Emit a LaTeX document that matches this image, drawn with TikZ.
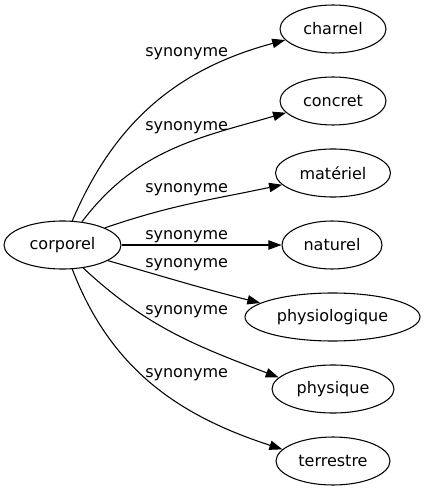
\documentclass[tikz,border=0pt]{standalone}
\usepackage{fontspec}
\setmainfont{DejaVu Sans}
\usetikzlibrary{shapes.geometric,arrows.meta}
\begin{document}
\begin{tikzpicture}[x=0.75pt,y=0.75pt,
  word/.style={ellipse,draw,line width=0.8pt,inner sep=0pt,minimum height=36pt,font=\fontsize{12}{14}\selectfont},
  rel/.style={font=\fontsize{12}{14}\selectfont,anchor=base west,inner sep=0pt},
  link/.style={line width=0.8pt,-{Triangle[length=9.75pt,width=7pt]}}]
\useasboundingbox (0,0) rectangle (426,-491);
\node[word,minimum width=87.75pt] (corporel) at (62.5,-245) {corporel};
\node[word,minimum width=79.5pt] (charnel) at (333,-29) {charnel};
\node[word,minimum width=79.5pt] (concret) at (333,-101) {concret};
\node[word,minimum width=86.25pt] (materiel) at (333,-173) {matériel};
\node[word,minimum width=75pt] (naturel) at (332,-245) {naturel};
\node[word,minimum width=131.25pt] (physio) at (332.5,-317) {physiologique};
\node[word,minimum width=91.5pt] (physique) at (333,-389) {physique};
\node[word,minimum width=85.5pt] (terrestre) at (333,-461) {terrestre};
\draw[link] (corporel.68) to[out=67,in=195] (charnel.193);
\draw[link] (corporel.50) to[out=53,in=196] (concret.194);
\draw[link] (corporel.22) to[out=19,in=192] (materiel.193);
\draw[link] (corporel) -- (naturel);
\draw[link] (corporel.-19) to[out=-16,in=166] (physio.169);
\draw[link] (corporel.-48) to[out=-43,in=159] (physique.168);
\draw[link] (corporel.-68) to[out=-69,in=162] (terrestre.167);
\node[rel] (lab1) at (145,-57) {synonyme};
\node[rel] (lab2) at (145,-131) {synonyme};
\node[rel] (lab3) at (145,-192.5) {synonyme};
\node[rel] (lab4) at (145,-239.3) {synonyme};
\node[rel] (lab5) at (145,-267.3) {synonyme};
\node[rel] (lab6) at (145,-314) {synonyme};
\node[rel] (lab7) at (145,-377.3) {synonyme};
\end{tikzpicture}
\end{document}
